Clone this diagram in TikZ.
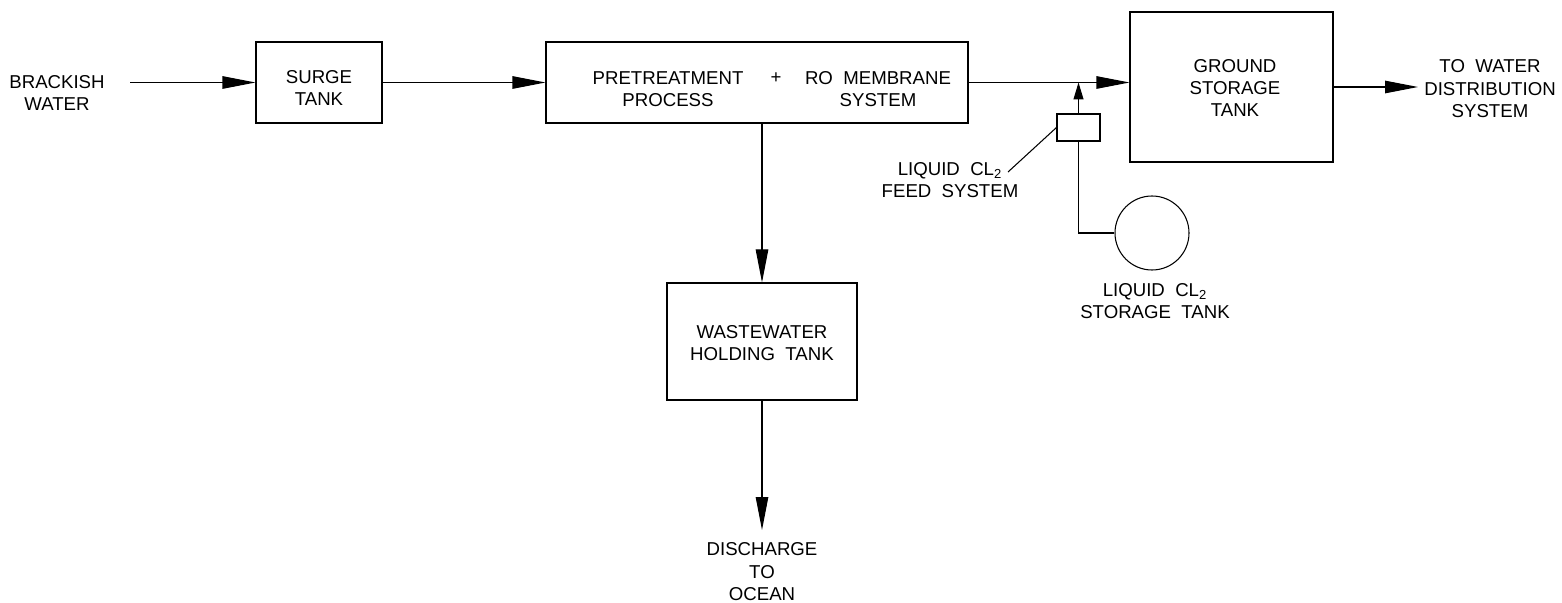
\documentclass[tikz,border=0pt]{standalone}
\usepackage{fontspec}
\setmainfont{Liberation Sans}
\usepackage{tikz}
\usetikzlibrary{positioning,arrows.meta}
\tikzset{
  unit-box/.style={draw, line width=0.6pt, rectangle, inner sep=0pt},
  plant-text/.style={font=\fontsize{10.6}{12.8}\selectfont, align=center, inner sep=0pt},
  flow-arrow/.style={-{Triangle[length=6.6mm, width=2.5mm]}, line width=0.6pt},
  feed-arrow/.style={-{Triangle[length=3.4mm, width=2mm]}, line width=0.6pt},
  pipe-line/.style={line width=0.6pt}
}
\begin{document}
\begin{tikzpicture}[x=0.2mm, y=-0.2mm]
\useasboundingbox (0,0) rectangle (1562,603);

% process units
\node[unit-box, minimum width=2.52cm, minimum height=1.62cm] (surge) at (319,82.5) {};
\node[unit-box, minimum width=8.44cm, minimum height=1.62cm] (pre) at (757,82.5) {};
\node[unit-box, minimum width=4.06cm, minimum height=3.0cm] (ground) at (1231.5,87) {};
\node[unit-box, minimum width=3.8cm, minimum height=2.34cm] (waste) at (762,341.5) {};
\node[unit-box, minimum width=0.86cm, minimum height=0.54cm] (feed) at (1078.5,127.5) {};
\node[draw, circle, line width=0.6pt, minimum size=1.48cm, inner sep=0pt] (cltank) at (1152,233) {};

% texts
\node[plant-text] (brackish) at (57,93) {BRACKISH\\WATER};
\node[plant-text] (surgetxt) at (319,88) {SURGE\\TANK};
\node[plant-text] (pretxt) at (668,89) {PRETREATMENT\\PROCESS};
\node[plant-text] (plus) at (776,78) {+};
\node[plant-text] (rotxt) at (878,89) {RO~~MEMBRANE\\SYSTEM};
\node[plant-text] (groundtxt) at (1235,88) {GROUND\\STORAGE\\TANK};
\node[plant-text] (distrib) at (1490,89) {TO~~WATER\\DISTRIBUTION\\SYSTEM};
\node[plant-text] (wastetxt) at (762,343) {WASTEWATER\\HOLDING~~TANK};
\node[plant-text] (discharge) at (762,572) {DISCHARGE\\TO\\OCEAN};
\node[plant-text] (feedtxt) at (950,180) {LIQUID~~CL\textsubscript{2}\\FEED~~SYSTEM};
\node[plant-text] (cltxt) at (1155,301) {LIQUID~~CL\textsubscript{2}\\STORAGE~~TANK};

% free ends
\coordinate (inlet) at (130,82.5);
\coordinate (outlet) at (1418,87);
\coordinate (ocean) at (762,530);
\coordinate (leader) at (1008,172);

% flow lines
\draw[flow-arrow] (inlet) -- (surge.west);
\draw[flow-arrow] (surge.east) -- (pre.west);
\draw[flow-arrow] (pre.east) -- (pre.east -| ground.west);
\draw[flow-arrow] (ground.east) -- (outlet);
\draw[flow-arrow] (waste.north |- pre.south) -- (waste.north);
\draw[flow-arrow] (waste.south) -- (ocean);

% chlorine feed
\draw[feed-arrow] (feed.north) -- (feed.north |- pre.east);
\draw[pipe-line] (feed.south) |- (cltank.west);
\draw[pipe-line] (feed.west) -- (leader);
\end{tikzpicture}
\end{document}
